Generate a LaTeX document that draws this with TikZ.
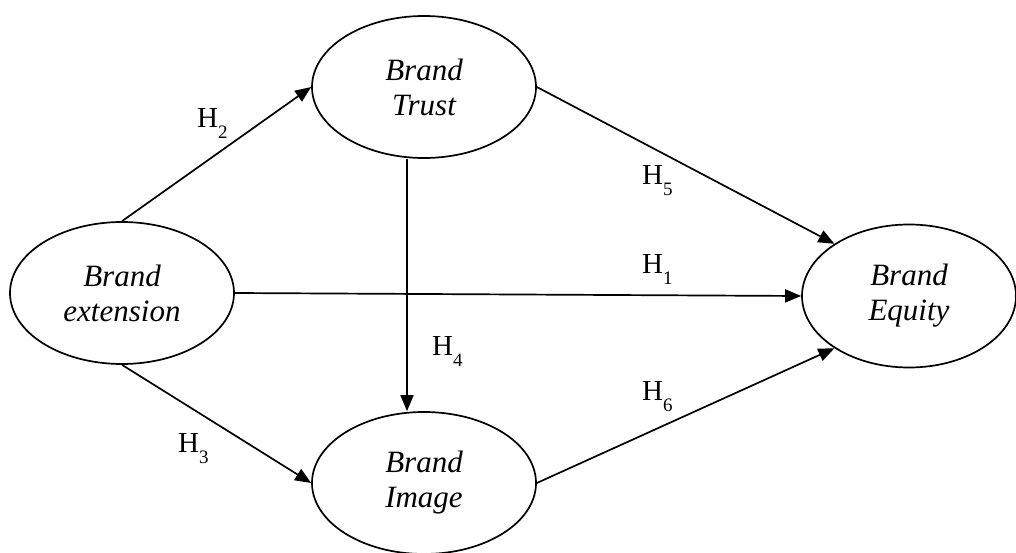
\documentclass[tikz,border=0pt]{standalone}
\usepackage{fontspec}
\setmainfont{Liberation Serif}
\usetikzlibrary{arrows.meta,shapes.geometric}
\newcommand{\hyp}[1]{H\raisebox{-11pt}{\fontsize{19}{19}\selectfont #1}}
\tikzset{
  construct/.style={draw, line width=1.7pt, ellipse, inner sep=0pt,
    minimum width=224pt, minimum height=142pt, align=center,
    font=\fontsize{31}{35}\selectfont\itshape},
  path/.style={draw, line width=1.7pt, -{Triangle[length=16pt,width=13pt]}},
  hlabel/.style={anchor=base west, inner sep=0pt, font=\fontsize{29}{29}\selectfont}
}
\begin{document}
\begin{tikzpicture}[x=1pt,y=-1pt]
\useasboundingbox (0,0) rectangle (1016,553);
\node[construct] (be) at (122,293) {Brand\\extension};
\node[construct] (bt) at (424,87) {Brand\\Trust};
\node[construct] (bi) at (424,483) {Brand\\Image};
\node[construct, minimum width=214pt, minimum height=143pt] (beq) at (909,296) {Brand\\Equity};
\draw[path] (be.north) -- (bt.west);
\draw[path] (be.south) -- (bi.west);
\draw[path] (be.east) -- (beq.west);
\draw[path] ([xshift=-17pt]bt.south) -- ([xshift=-17pt]bi.north);
\draw[path] (bt.east) -- (beq.145);
\draw[path] (bi.east) -- (beq.215);
\node[hlabel] (h2) at (197,128) {\hyp{2}};
\node[hlabel] (h3) at (178,452) {\hyp{3}};
\node[hlabel] (h1) at (642,273) {\hyp{1}};
\node[hlabel] (h5) at (642,185) {\hyp{5}};
\node[hlabel] (h6) at (642,400) {\hyp{6}};
\node[hlabel] (h4) at (432,355) {\hyp{4}};
\end{tikzpicture}
\end{document}
